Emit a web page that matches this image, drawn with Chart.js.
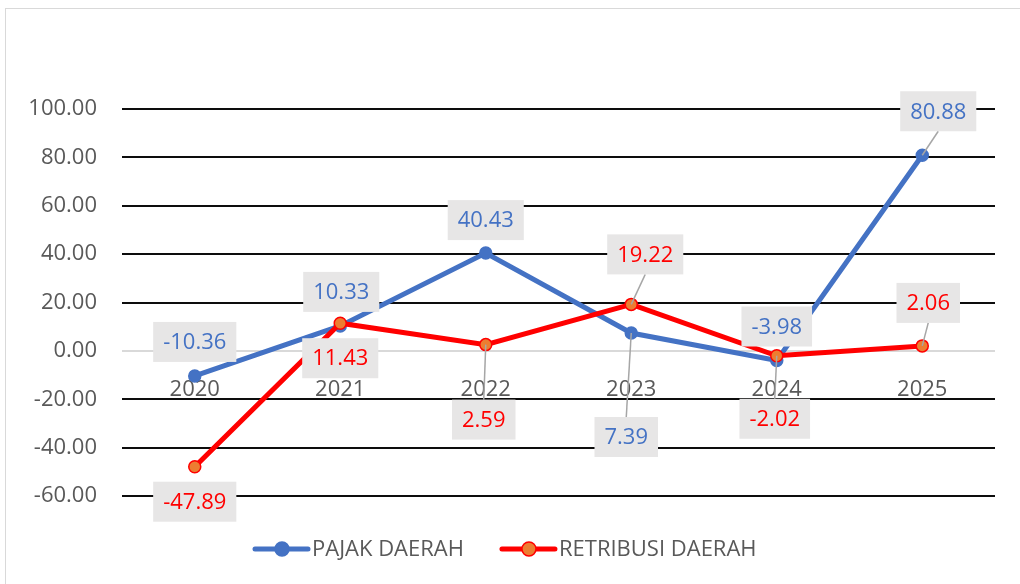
<!DOCTYPE html>
<html>
<head>
<meta charset="utf-8">
<script src="https://cdn.jsdelivr.net/npm/chart.js@4.4.1/dist/chart.umd.min.js"></script>
<style>
  html, body { margin: 0; padding: 0; background: #fff; }
  #frame { position: absolute; left: 5px; top: 8px; width: 1030px; height: 600px; border: 1px solid #d9d9d9; }
  #wrap { position: absolute; left: 0; top: 0; width: 1020px; height: 584px; }
</style>
</head>
<body>
<div id="frame"></div>
<div id="wrap"><canvas id="chart" width="1020" height="584"></canvas></div>
<script>
// growth figures per year (%)
const years = ["2020", "2021", "2022", "2023", "2024", "2025"];
const pajakDaerah = [-10.36, 10.33, 40.43, 7.39, -3.98, 80.88];
const retribusiDaerah = [-47.89, 11.43, 2.59, 19.22, -2.02, 2.06];
const yTicks = [-60, -40, -20, 0, 20, 40, 60, 80, 100];

const FONT = "'Open Sans', sans-serif";
const TEXT_GRAY = "#595959";
const BLUE = "#4472C4";
const RED = "#FF0000";
const ORANGE = "#ED7D31";

// where each value box sits relative to its point (px)
const labelOffsets = [
  [[0, -34], [1, -34], [0, -33], [-5, 104], [0, -34], [16, -44]],
  [[0, 35], [0, 35], [-2, 75], [14, -50], [-2, 63], [6, -43]],
];

const valueLabels = {
  id: "valueLabels",
  afterDatasetsDraw(chart) {
    const ctx = chart.ctx;
    ctx.save();
    ctx.font = `22px ${FONT}`;
    ctx.textAlign = "center";
    ctx.textBaseline = "middle";
    chart.data.datasets.forEach((ds, i) => {
      const meta = chart.getDatasetMeta(i);
      meta.data.forEach((pt, j) => {
        const [dx, dy] = labelOffsets[i][j];
        const cx = pt.x + dx;
        const cy = pt.y + dy;
        const text = ds.data[j].toFixed(2);
        const w = ctx.measureText(text).width + 20;
        const h = 40;
        // leader line for boxes pulled away from the point
        if (Math.hypot(dx, dy) > 40) {
          const ey = dy < 0 ? cy + h / 2 : cy - h / 2;
          ctx.strokeStyle = "#A6A6A6";
          ctx.lineWidth = 1.5;
          ctx.beginPath();
          ctx.moveTo(pt.x, pt.y);
          ctx.lineTo(cx, ey);
          ctx.stroke();
        }
        ctx.fillStyle = "#E7E6E6";
        ctx.fillRect(cx - w / 2, cy - h / 2, w, h);
        ctx.fillStyle = ds.labelColor;
        ctx.fillText(text, cx, cy + 1);
      });
    });
    ctx.restore();
  },
};

const bottomLegend = {
  id: "bottomLegend",
  afterDraw(chart) {
    const ctx = chart.ctx;
    const y = 549;
    let x = 255;
    ctx.save();
    ctx.font = `22px ${FONT}`;
    ctx.textBaseline = "middle";
    ctx.textAlign = "left";
    chart.data.datasets.forEach((ds) => {
      ctx.strokeStyle = ds.borderColor;
      ctx.lineWidth = 5;
      ctx.lineCap = "round";
      ctx.beginPath();
      ctx.moveTo(x, y);
      ctx.lineTo(x + 53, y);
      ctx.stroke();
      ctx.beginPath();
      ctx.arc(x + 27, y, 7, 0, Math.PI * 2);
      ctx.fillStyle = ds.pointBackgroundColor;
      ctx.fill();
      ctx.lineWidth = 1.5;
      ctx.strokeStyle = ds.pointBorderColor;
      ctx.stroke();
      ctx.fillStyle = TEXT_GRAY;
      ctx.fillText(ds.label, x + 57, y + 1);
      x += 57 + ctx.measureText(ds.label).width + 38;
    });
    ctx.restore();
  },
};

new Chart(document.getElementById("chart"), {
  type: "line",
  data: {
    labels: years,
    datasets: [
      {
        label: "PAJAK DAERAH",
        data: pajakDaerah,
        borderColor: BLUE,
        backgroundColor: BLUE,
        pointBackgroundColor: BLUE,
        pointBorderColor: BLUE,
        labelColor: BLUE,
        borderWidth: 5,
        pointRadius: 6,
        pointBorderWidth: 1.5,
        order: 2,
      },
      {
        label: "RETRIBUSI DAERAH",
        data: retribusiDaerah,
        borderColor: RED,
        backgroundColor: ORANGE,
        pointBackgroundColor: ORANGE,
        pointBorderColor: RED,
        labelColor: RED,
        borderWidth: 5,
        pointRadius: 6,
        pointBorderWidth: 1.5,
        order: 1,
      },
    ],
  },
  options: {
    responsive: false,
    animation: false,
    layout: { padding: { top: 109, right: 25, bottom: 88, left: 0 } },
    plugins: {
      legend: { display: false },
      tooltip: { enabled: false },
    },
    scales: {
      x: {
        type: "category",
        position: { y: 0 },
        offset: true,
        grid: { display: false },
        border: { display: false },
        ticks: { color: TEXT_GRAY, font: { family: FONT, size: 22 }, padding: 18, maxRotation: 0 },
        afterFit: (s) => { s.height = 0; },
      },
      y: {
        min: -60,
        max: 100,
        border: { display: false },
        grid: {
          drawTicks: false,
          lineWidth: 2,
          color: (c) => (c.tick && c.tick.value === 0 ? "#D9D9D9" : "#0D0D0D"),
        },
        afterBuildTicks: (s) => { s.ticks = yTicks.map((v) => ({ value: v })); },
        afterFit: (s) => { s.width = 122; },
        ticks: {
          color: TEXT_GRAY,
          font: { family: FONT, size: 22 },
          padding: 25,
          callback: (v) => Number(v).toFixed(2),
        },
      },
    },
  },
  plugins: [valueLabels, bottomLegend],
});
</script>
</body>
</html>
